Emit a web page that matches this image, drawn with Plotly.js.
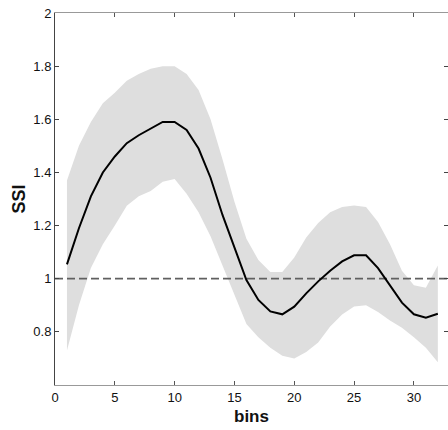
<!DOCTYPE html>
<html>
<head>
<meta charset="utf-8">
<script src="https://cdn.plot.ly/plotly-3.0.1.min.js"></script>
<style>html,body{margin:0;padding:0;background:#fff;}#chart{width:448px;height:430px;}</style>
</head>
<body>
<div id="chart"></div>
<script>
const bins = [1,2,3,4,5,6,7,8,9,10,11,12,13,14,15,16,17,18,19,20,21,22,23,24,25,26,27,28,29,30,31,32];
const ssiMean = [1.054,1.19,1.31,1.40,1.46,1.51,1.54,1.565,1.59,1.59,1.56,1.49,1.38,1.24,1.115,0.995,0.92,0.877,0.866,0.895,0.945,0.99,1.03,1.065,1.088,1.088,1.04,0.975,0.91,0.866,0.853,0.868];
const ssiUpper = [1.37,1.50,1.59,1.66,1.70,1.745,1.77,1.79,1.80,1.80,1.77,1.71,1.60,1.45,1.29,1.15,1.07,1.025,1.025,1.08,1.155,1.21,1.25,1.27,1.276,1.27,1.213,1.13,1.03,0.975,0.966,1.05];
const ssiLower = [0.73,0.90,1.04,1.13,1.20,1.275,1.31,1.33,1.365,1.375,1.32,1.25,1.16,1.05,0.94,0.83,0.78,0.74,0.71,0.70,0.724,0.76,0.82,0.865,0.895,0.90,0.875,0.843,0.815,0.78,0.74,0.686];
const baselineX = [0, 33];
const baselineY = [1, 1];
const xTicks = [0,5,10,15,20,25,30];
const yTicks = [0.8,1,1.2,1.4,1.6,1.8,2];
const yTickText = ['0.8','1','1.2','1.4','1.6','1.8','2'];

const font = 'Liberation Sans, Arial, sans-serif';
const traces = [
  {x: bins, y: ssiLower, mode: 'lines', line: {width: 0, color: '#dedede'}, hoverinfo: 'skip', showlegend: false},
  {x: bins, y: ssiUpper, mode: 'lines', line: {width: 0, color: '#dedede'}, fill: 'tonexty', fillcolor: '#dedede', showlegend: false},
  {x: baselineX, y: baselineY, mode: 'lines', line: {color: '#606060', width: 1.8, dash: '8px,4px'}, showlegend: false},
  {x: bins, y: ssiMean, mode: 'lines', line: {color: '#000', width: 2}, showlegend: false},
  {x: bins, y: ssiMean, yaxis: 'y2', mode: 'lines', line: {width: 0}, opacity: 0, hoverinfo: 'skip', showlegend: false}
];
const layout = {
  width: 448, height: 430,
  margin: {l: 55, r: 0, t: 13, b: 45},
  paper_bgcolor: '#fff', plot_bgcolor: '#fff',
  font: {family: font, size: 13, color: '#111'},
  xaxis: {
    range: [0, 32.85], tickvals: xTicks, ticktext: xTicks.map(String),
    ticks: 'inside', ticklen: 4, tickcolor: '#555', tickwidth: 1,
    showline: true, linecolor: '#999', linewidth: 1, mirror: 'ticks',
    showgrid: false, zeroline: false,
    tickfont: {family: font, size: 13, color: '#111'},
    title: {text: '<b>bins</b>', font: {family: font, size: 17, color: '#111'}, standoff: 6}
  },
  yaxis: {
    range: [0.6, 2], tickvals: yTicks, ticktext: yTickText,
    ticks: 'inside', ticklen: 4, tickcolor: '#444', tickwidth: 1,
    showline: true, linecolor: '#444', linewidth: 1,
    showgrid: false, zeroline: false,
    tickfont: {family: font, size: 13, color: '#111'},
    title: {text: '<b>SSI</b>', font: {family: font, size: 18, color: '#111'}, standoff: 3}
  },
  yaxis2: {
    overlaying: 'y', side: 'right', matches: 'y', range: [0.6, 2], tickvals: yTicks,
    ticks: 'inside', ticklen: 4, tickcolor: '#444', showticklabels: false,
    showline: false, showgrid: false, zeroline: false
  }
};
Plotly.newPlot('chart', traces, layout, {displayModeBar: false, staticPlot: true});
</script>
</body>
</html>
